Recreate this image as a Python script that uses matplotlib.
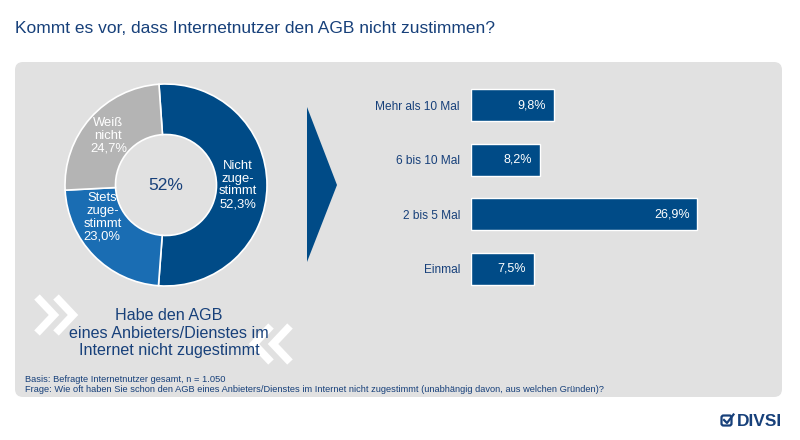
import matplotlib.pyplot as plt
from matplotlib.patches import FancyBboxPatch, Polygon, FancyBboxPatch as RBox

plt.rcParams['font.family'] = ['Liberation Sans', 'DejaVu Sans']

# Daten
donut_labels = ['Nicht\nzuge-\nstimmt\n52,3%', 'Stets\nzuge-\nstimmt\n23,0%', 'Weiß\nnicht\n24,7%']
donut_values = [52.3, 23.0, 24.7]
donut_colors = ['#004b87', '#1a6db3', '#b4b4b4']

bar_labels = ['Mehr als 10 Mal', '6 bis 10 Mal', '2 bis 5 Mal', 'Einmal']
bar_values = [9.8, 8.2, 26.9, 7.5]

navy = '#17407a'
W, H = 800, 440

fig = plt.figure(figsize=(8, 4.4), dpi=100)
fig.patch.set_facecolor('white')

# Hintergrund-Achse in Pixelkoordinaten
bg = fig.add_axes([0, 0, 1, 1])
bg.set_xlim(0, W)
bg.set_ylim(H, 0)
bg.axis('off')

bg.add_patch(FancyBboxPatch((15 + 8, 62 + 8), 767 - 16, 335 - 16,
                            boxstyle='round,pad=8', fc='#e1e1e1', ec='none'))
bg.text(15, 33, 'Kommt es vor, dass Internetnutzer den AGB nicht zustimmen?',
        fontsize=12.5, color=navy, va='baseline', ha='left')

# Pfeil
bg.add_patch(Polygon([(307, 107), (337, 185), (307, 262)], closed=True,
                     fc='#004b87', ec='none'))

# Chevrons
for dx in (0, 19):
    bg.plot([37 + dx, 54 + dx, 37 + dx], [297, 315, 333], color='white',
            lw=5.5, solid_joinstyle='miter', solid_capstyle='butt')
for dx in (0, 19):
    bg.plot([290 - dx, 273 - dx, 290 - dx], [326, 344, 362], color='white',
            lw=5.5, solid_joinstyle='miter', solid_capstyle='butt')

bg.text(169, 333, 'Habe den AGB\neines Anbieters/Dienstes im\nInternet nicht zugestimmt',
        fontsize=11.6, color=navy, ha='center', va='center', linespacing=1.25)

# Fußnote
bg.text(25, 379, 'Basis: Befragte Internetnutzer gesamt, n = 1.050', fontsize=6.7,
        color=navy, va='center')
bg.text(25, 389, 'Frage: Wie oft haben Sie schon den AGB eines Anbieters/Dienstes im Internet '
        'nicht zugestimmt (unabhängig davon, aus welchen Gründen)?', fontsize=6.7,
        color=navy, va='center')

# Logo
bg.add_patch(RBox((721.5, 415.5), 10, 10, boxstyle='round,pad=0,rounding_size=2',
                  fc='none', ec=navy, lw=1.6))
bg.plot([724, 727, 733.5], [420, 423, 414.5], color=navy, lw=1.6)
bg.text(737, 421, 'DIVSI', fontsize=12.5, fontweight='bold', color=navy,
        va='center', ha='left')

# Donut
cx, cy, r = 166, 185, 101
ax1 = fig.add_axes([(cx - r) / W, (H - cy - r) / H, 2 * r / W, 2 * r / H])
wedges, _ = ax1.pie(donut_values, colors=donut_colors, startangle=94, counterclock=False,
                    radius=1, wedgeprops=dict(width=0.5, edgecolor='white', linewidth=1.2))
ax1.set_xlim(-1, 1)
ax1.set_ylim(-1, 1)
ax1.set_aspect('auto')
ax1.axis('off')
label_pos = [(0.71, 0.0), (-0.63, -0.32), (-0.57, 0.485)]
for (x, y), lab in zip(label_pos, donut_labels):
    ax1.text(x, y, lab, ha='center', va='center', color='white', fontsize=9.4,
             linespacing=1.08)
ax1.text(0, 0, '52%', ha='center', va='center', color=navy, fontsize=12.5)

# Balken
x0 = 471
px_per = 8.42
ax2 = fig.add_axes([x0 / W, (H - 296.3) / H, 30 * px_per / W, 218.6 / H])
ypos = list(range(len(bar_values)))
ax2.barh(ypos, bar_values, height=0.585, color='#004b87', edgecolor='white', linewidth=1)
ax2.set_xlim(0, 30)
ax2.set_ylim(len(bar_values) - 0.5, -0.5)
ax2.set_yticks(ypos)
ax2.set_yticklabels(bar_labels, fontsize=8.6, color=navy)
ax2.tick_params(axis='y', length=0, pad=8)
ax2.set_xticks([])
for s in ax2.spines.values():
    s.set_visible(False)
ax2.patch.set_visible(False)
for y, v in zip(ypos, bar_values):
    ax2.text(v - 0.95, y, f'{v:.1f}%'.replace('.', ','), ha='right', va='center',
             color='white', fontsize=9)

fig.savefig('out.png', dpi=100)
